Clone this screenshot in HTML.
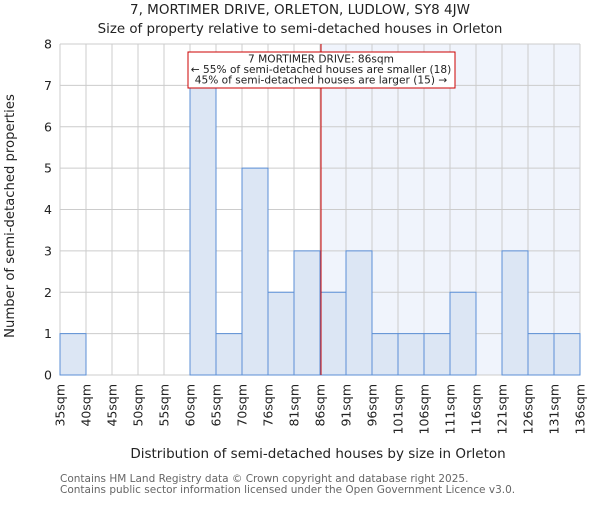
<!DOCTYPE html>
<html><head><meta charset="utf-8"><style>
body{margin:0;background:#fff;}
svg text{font-family:"DejaVu Sans","Liberation Sans",sans-serif;fill:#222;}
</style></head><body>
<svg width="600" height="500" xmlns="http://www.w3.org/2000/svg">
<text x="300" y="14" text-anchor="middle" font-size="13.5">7, MORTIMER DRIVE, ORLETON, LUDLOW, SY8 4JW</text>
<text x="300" y="33" text-anchor="middle" font-size="13.4">Size of property relative to semi-detached houses in Orleton</text>
<g id="plot"></g>
<text x="318" y="458" text-anchor="middle" font-size="13.5">Distribution of semi-detached houses by size in Orleton</text>
<text transform="translate(14,216) rotate(-90)" text-anchor="middle" font-size="13.2">Number of semi-detached properties</text>
<text x="60" y="482" font-size="10.5" style="fill:#666">Contains HM Land Registry data © Crown copyright and database right 2025.</text>
<text x="60" y="493" font-size="10.5" style="fill:#666">Contains public sector information licensed under the Open Government Licence v3.0.</text>
</svg>
<script>
const labels=["35sqm","40sqm","45sqm","50sqm","55sqm","60sqm","65sqm","70sqm","76sqm","81sqm","86sqm","91sqm","96sqm","101sqm","106sqm","111sqm","116sqm","121sqm","126sqm","131sqm","136sqm"];
const counts=[1,0,0,0,0,7,1,5,2,3,2,3,1,1,1,2,0,3,1,1];
const yTicks=[0,1,2,3,4,5,6,7,8];
const subjectIndex=10;
const NS="http://www.w3.org/2000/svg";
const g=document.getElementById('plot');
const x0=60,x1=580,y0=375,y1=44,yMax=8;
const bw=(x1-x0)/counts.length;
const X=i=>x0+i*bw, Y=v=>y0-(v/yMax)*(y0-y1);
function mk(t,a){const e=document.createElementNS(NS,t);for(const k in a)e.setAttribute(k,a[k]);g.appendChild(e);return e;}
let e=mk('rect',{x:X(subjectIndex)+1,y:y1,width:x1-X(subjectIndex)-1,height:y0-y1,fill:'#f0f4fc'});


yTicks.forEach(v=>{const l=mk('line',{x1:x0,x2:x1,y1:Y(v),y2:Y(v),stroke:'#ccc','stroke-width':1});


const t=mk('text',{x:x0-8,y:Y(v)+4.5,'text-anchor':'end','font-size':12.5});t.textContent=v;

});
labels.forEach((s,i)=>{const l=mk('line',{x1:X(i),x2:X(i),y1:y1,y2:y0,stroke:'#ccc','stroke-width':1});


const t=mk('text',{transform:`translate(${X(i)+4.5},${y0+9}) rotate(-90)`,'text-anchor':'end','font-size':12.5});t.textContent=s;

});
counts.forEach((c,i)=>{if(!c)return;const r=mk('rect',{x:X(i),y:Y(c),width:bw,height:y0-Y(c),fill:'#dce6f4',stroke:'#5b8fd6','stroke-width':1});

});
const rl=mk('line',{x1:X(subjectIndex)+1,x2:X(subjectIndex)+1,y1:y1,y2:y0,stroke:'#cc0000','stroke-width':1});


const box=mk('rect',{x:188,y:52,width:267,height:36,fill:'#fff',stroke:'#cc0000','stroke-width':1});


["7 MORTIMER DRIVE: 86sqm","← 55% of semi-detached houses are smaller (18)","45% of semi-detached houses are larger (15) →"].forEach((s,i)=>{const t=mk('text',{x:321,y:62.5+i*10.5,'text-anchor':'middle','font-size':10.6});t.textContent=s;

});
</script>
</body></html>
